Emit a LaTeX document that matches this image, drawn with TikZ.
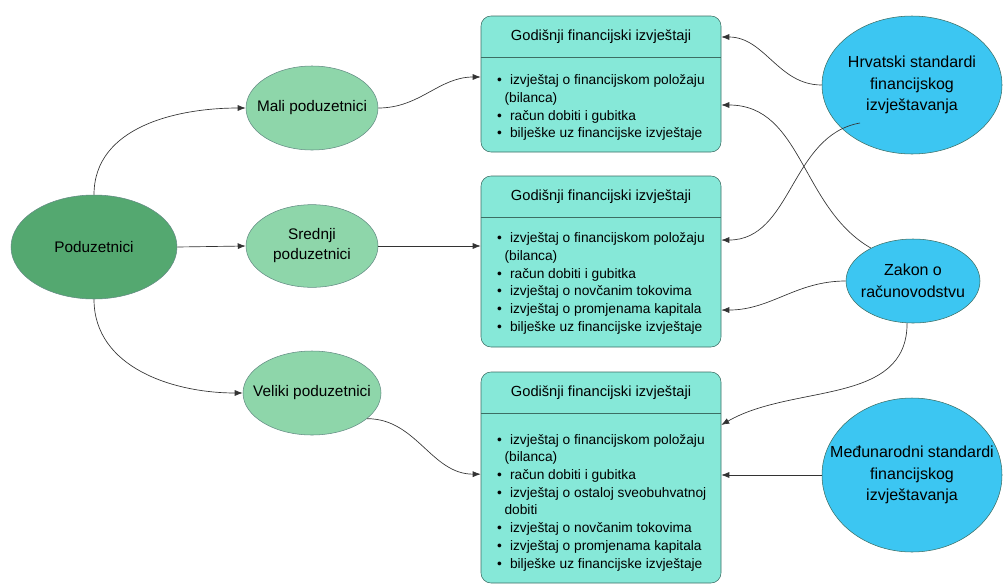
\documentclass[tikz,border=0pt]{standalone}
\usepackage{fontspec}
\setmainfont{Liberation Sans}
\usetikzlibrary{shapes.geometric,arrows.meta}

\definecolor{tamnozelena}{RGB}{84,168,112}
\definecolor{svijetlozelena}{RGB}{142,214,170}
\definecolor{tirkizna}{RGB}{134,232,216}
\definecolor{plava}{RGB}{60,198,242}
\definecolor{rub}{RGB}{60,110,100}

\tikzset{
  poduzetnik/.style={ellipse, draw=rub!80, fill=svijetlozelena, inner sep=0pt},
  propis/.style={ellipse, draw=rub, fill=plava, inner sep=0pt},
  tekstp/.style={align=center, inner sep=0pt, font=\fontsize{11.5}{15}\selectfont},
  tekstr/.style={align=center, inner sep=0pt, font=\fontsize{12}{16.3}\selectfont},
  izvjestaj/.style={rectangle, rounded corners=7.5pt, draw=rub, fill=tirkizna, inner sep=0pt,
    minimum width=180pt},
  naslov/.style={font=\fontsize{11}{13}\selectfont},
  popis/.style={anchor=north west, align=left, inner sep=0pt,
    font=\fontsize{10.3}{13.3}\selectfont},
  veza/.style={-{Latex[length=6pt,width=4.5pt]}, draw=black!80, line width=0.5pt}
}

\newcommand{\stavka}[1]{\textbullet\hspace{0.6em}#1}
\newcommand{\nastavak}{\hspace*{0.55em}}

\begin{document}
\begin{tikzpicture}[x=0.75pt, y=-0.75pt]
    \useasboundingbox (0,0) rectangle (1003,586);

    % poduzetnici
    \node[poduzetnik, fill=tamnozelena, minimum width=124.5pt, minimum height=78pt,
          label={[tekstp]center:Poduzetnici}] (pod) at (94,247) {};
    \node[poduzetnik, minimum width=99pt, minimum height=63pt,
          label={[tekstp]center:Mali poduzetnici}] (mali) at (312,108) {};
    \node[poduzetnik, minimum width=99pt, minimum height=62pt,
          label={[tekstp]center:Srednji\\poduzetnici}] (sred) at (312,246) {};
    \node[poduzetnik, minimum width=103.5pt, minimum height=63pt,
          label={[tekstp]center:Veliki poduzetnici}] (vel) at (312,393) {};

    % godisnji izvjestaji
    \node[izvjestaj, minimum height=102pt] (gfi1) at (601,84) {};
    \node[izvjestaj, minimum height=128.25pt] (gfi2) at (601,261.5) {};
    \node[izvjestaj, minimum height=158.25pt] (gfi3) at (601,477.5) {};

    \foreach \b in {gfi1,gfi2,gfi3} {
        \draw[rub] ([yshift=-31.5pt]\b.north west) -- ([yshift=-31.5pt]\b.north east);
        \node[naslov] (\b-naslov) at ([yshift=-15.75pt]\b.north) {Godišnji financijski izvještaji};
    }

    \node[popis] (popis1) at ([xshift=12pt,yshift=-44pt]gfi1.north west) {%
        \stavka{izvještaj o financijskom položaju}\\
        \nastavak(bilanca)\\
        \stavka{račun dobiti i gubitka}\\
        \stavka{bilješke uz financijske izvještaje}};
    \node[popis] (popis2) at ([xshift=12pt,yshift=-42.5pt]gfi2.north west) {%
        \stavka{izvještaj o financijskom položaju}\\
        \nastavak(bilanca)\\
        \stavka{račun dobiti i gubitka}\\
        \stavka{izvještaj o novčanim tokovima}\\
        \stavka{izvještaj o promjenama kapitala}\\
        \stavka{bilješke uz financijske izvještaje}};
    \node[popis] (popis3) at ([xshift=12pt,yshift=-46.5pt]gfi3.north west) {%
        \stavka{izvještaj o financijskom položaju}\\
        \nastavak(bilanca)\\
        \stavka{račun dobiti i gubitka}\\
        \stavka{izvještaj o ostaloj sveobuhvatnoj}\\
        \nastavak dobiti\\
        \stavka{izvještaj o novčanim tokovima}\\
        \stavka{izvještaj o promjenama kapitala}\\
        \stavka{bilješke uz financijske izvještaje}};

    % propisi
    \node[propis, minimum width=135pt, minimum height=103.5pt,
          label={[tekstr]center:Hrvatski standardi\\financijskog\\izvještavanja}] (hsfi) at (912,85) {};
    \node[propis, minimum width=100.5pt, minimum height=63pt,
          label={[tekstr]center:Zakon o\\računovodstvu}] (zakon) at (913,281) {};
    \node[propis, minimum width=135pt, minimum height=115.5pt,
          label={[tekstr]center:Međunarodni standardi\\financijskog\\izvještavanja}] (msfi) at (912,475) {};
    \coordinate (hsfi-izlaz) at ([xshift=-39pt,yshift=-28.5pt]hsfi.center);

    % veze
    \draw[veza] (pod.north) to[out=90, in=180] (mali.west);
    \draw[veza] (pod.east) -- (sred.west);
    \draw[veza] (pod.south) to[out=-90, in=180] (vel.west);
    \draw[veza] (mali.east) to[out=0, in=180] ([yshift=5.25pt]gfi1.west);
    \draw[veza] (sred.east) -- (sred.east -| gfi2.west);
    \draw[veza] (vel.-25) to[out=0, in=180] ([yshift=2.5pt]gfi3.west);

    \draw[veza] (hsfi.west) to[out=180, in=0] ([yshift=35.25pt]gfi1.east);
    \draw[veza] (hsfi-izlaz) to[out=190, in=0] ([yshift=16.1pt]gfi2.east);
    \draw[veza] (zakon.142) to[out=150, in=0] ([yshift=-15.75pt]gfi1.east);
    \draw[veza] (zakon.west) to[out=180, in=0] ([yshift=-36.4pt]gfi2.east);
    \draw[veza] (zakon.-98) to[out=-90, in=30] ([yshift=39.4pt]gfi3.east);
    \draw[veza] (msfi.west) -- (msfi.west -| gfi3.east);
\end{tikzpicture}
\end{document}
